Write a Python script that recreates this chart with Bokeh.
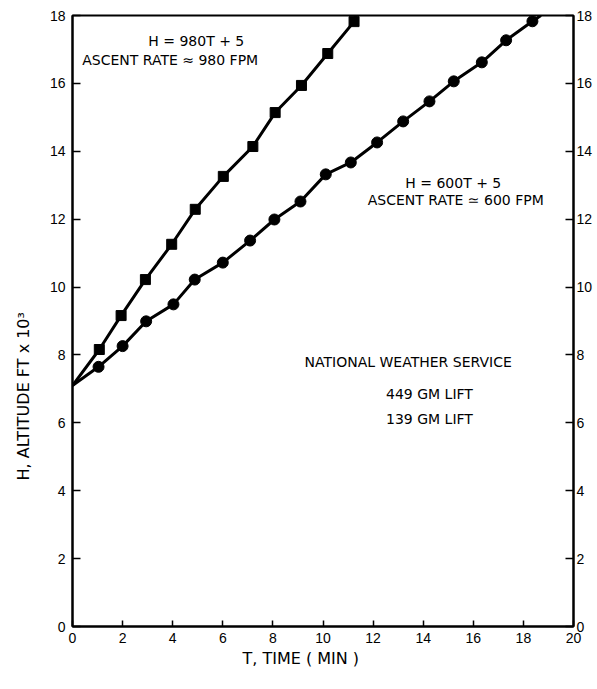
from bokeh.plotting import figure
from bokeh.models import LinearAxis, SingleIntervalTicker, Range1d, Title
from bokeh.embed import file_html
from bokeh.resources import INLINE
from bokeh.core.properties import value

# Data (T in minutes, H in thousands of feet)
sq_t = [1.07, 1.94, 2.91, 3.96, 4.9, 6.02, 7.2, 8.09, 9.14, 10.19, 11.24]
sq_h = [8.16, 9.16, 10.22, 11.26, 12.29, 13.26, 14.14, 15.14, 15.94, 16.88, 17.82]
ci_t = [1.04, 2.0, 2.94, 4.03, 4.88, 6.0, 7.09, 8.06, 9.1, 10.11, 11.11,
        12.16, 13.2, 14.25, 15.22, 16.34, 17.31, 18.36]
ci_h = [7.65, 8.26, 8.99, 9.49, 10.22, 10.72, 11.37, 11.99, 12.52, 13.32,
        13.67, 14.26, 14.88, 15.47, 16.06, 16.62, 17.27, 17.83]
# drawn curves: start at the common origin, pass through the points, run off the top
fast_t = [0] + sq_t + [11.3]
fast_h = [7.1] + sq_h + [18.0]
slow_t = [0] + ci_t + [18.7]
slow_h = [7.1] + ci_h + [18.0]

ann_text = ["H = 980T + 5", "ASCENT RATE \u2248 980 FPM",
            "H = 600T + 5", "ASCENT RATE \u2243 600 FPM",
            "NATIONAL WEATHER SERVICE", "449 GM LIFT", "139 GM LIFT"]
ann_t = [4.94, 3.9, 15.2, 15.3, 13.4, 14.25, 14.25]
ann_h = [17.24, 16.7, 13.08, 12.57, 7.8, 6.85, 6.1]

x_ticks_interval = 2
y_ticks_interval = 2

FONT = "DejaVu Sans"
TICKFONT = "Liberation Sans"

p = figure(width=597, height=689, output_backend="svg", toolbar_location=None,
           x_range=Range1d(0, 20), y_range=Range1d(0, 18),
           min_border_left=72, min_border_right=24, min_border_top=15,
           min_border_bottom=63)
p.xgrid.visible = False
p.ygrid.visible = False
p.outline_line_color = "black"
p.outline_line_width = 2

p.line(fast_t, fast_h, line_color="black", line_width=3)
p.line(slow_t, slow_h, line_color="black", line_width=3)
p.scatter(sq_t, sq_h, marker="square", size=10, color="black")
p.scatter(ci_t, ci_h, marker="circle", size=11, color="black")

p.text(ann_t, ann_h, text=ann_text, text_align="center", text_baseline="middle",
       text_font=value(FONT), text_font_size="14px", text_color="black")

def style(ax, tick_len):
    ax.major_tick_in = tick_len
    ax.major_tick_out = 0
    ax.minor_tick_in = 0
    ax.minor_tick_out = 0
    ax.axis_line_width = 2
    ax.major_tick_line_width = 1.5
    ax.major_label_text_font = TICKFONT
    ax.major_label_text_font_size = "14px"
    ax.major_label_text_color = "black"

xa = p.xaxis[0]
style(xa, 6)
xa.ticker = SingleIntervalTicker(interval=x_ticks_interval)
xa.major_label_standoff = 6

ya = p.yaxis[0]
style(ya, 8)
ya.ticker = SingleIntervalTicker(interval=y_ticks_interval)
ya.major_label_standoff = 7

ra = LinearAxis()
style(ra, 8)
ra.ticker = SingleIntervalTicker(interval=y_ticks_interval)
ra.major_label_standoff = 3
p.add_layout(ra, "right")

# axis titles, placed off-centre as in the original
xt = Title(text="T,  TIME ( MIN )", align="left", offset=170, standoff=2,
           text_font=FONT, text_font_size="16px", text_font_style="normal",
           text_color="black")
p.add_layout(xt, "below")
yt = Title(text="H,  ALTITUDE   FT x 10\u00b3", align="left", offset=146,
           standoff=24, vertical_align="top", text_font=FONT,
           text_font_size="16px", text_font_style="normal", text_color="black")
p.add_layout(yt, "left")

open("out.html", "w").write(file_html(p, INLINE))
